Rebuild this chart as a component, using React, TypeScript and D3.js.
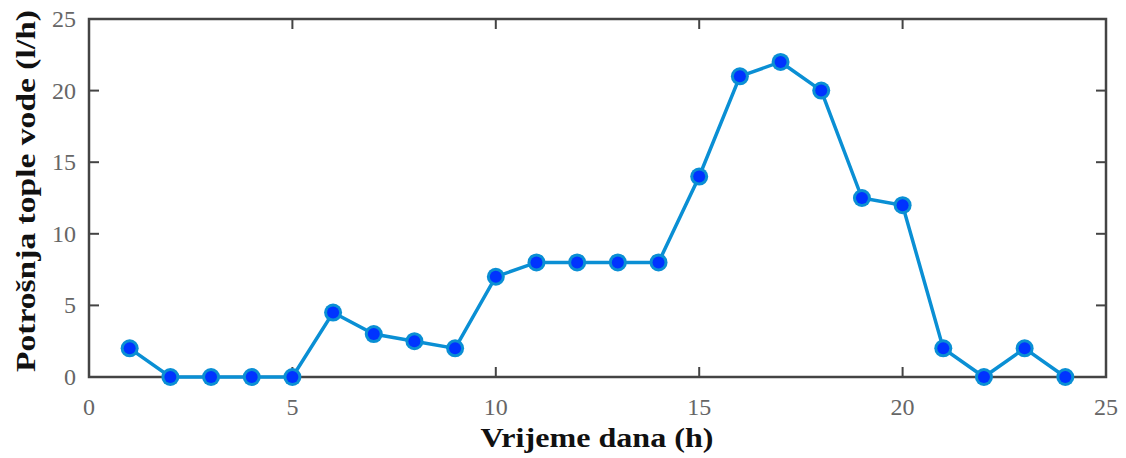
import React from "react";
import * as d3 from "d3";

const hours = [1,2,3,4,5,6,7,8,9,10,11,12,13,14,15,16,17,18,19,20,21,22,23,24];
const consumption = [2,0,0,0,0,4.5,3,2.5,2,7,8,8,8,8,14,21,22,20,12.5,12,2,0,2,0];
const xTicks = [0,5,10,15,20,25];
const yTicks = [0,5,10,15,20,25];
const xLabel = "Vrijeme dana (h)";
const yLabel = "Potrošnja tople vode (l/h)";

export default function App() {
  const W = 1126, H = 458;
  const L = 89, R = 1106, T = 19, B = 377;
  const x = d3.scaleLinear().domain([0, 25]).range([L, R]);
  const y = d3.scaleLinear().domain([0, 25]).range([B, T]);
  const line = d3.line<number>().x((_, i) => x(hours[i])).y((d) => y(d));
  const tl = 10;
  const axisColor = "#444";
  return (
    <svg width={W} height={H} style={{ position: "absolute", left: 0, top: 0, background: "#fff" }}>
      <rect x={L} y={T} width={R - L} height={B - T} fill="none" stroke={axisColor} strokeWidth={2.5} />
      {xTicks.map((t) => (
        <g key={"x" + t}>
          <line x1={x(t)} x2={x(t)} y1={B} y2={B - tl} stroke={axisColor} strokeWidth={2} />
          <line x1={x(t)} x2={x(t)} y1={T} y2={T + tl} stroke={axisColor} strokeWidth={2} />
          <text x={x(t)} y={415} textAnchor="middle" fontFamily="Liberation Serif" fontSize={24} fill="#666">{t}</text>
        </g>
      ))}
      {yTicks.map((t) => (
        <g key={"y" + t}>
          <line x1={L} x2={L + tl} y1={y(t)} y2={y(t)} stroke={axisColor} strokeWidth={2} />
          <line x1={R} x2={R - tl} y1={y(t)} y2={y(t)} stroke={axisColor} strokeWidth={2} />
          <text x={76} y={y(t) + 8} textAnchor="end" fontFamily="Liberation Serif" fontSize={24} fill="#666">{t}</text>
        </g>
      ))}
      <path d={line(consumption) || ""} fill="none" stroke="#0a8fd4" strokeWidth={3.5} />
      {consumption.map((v, i) => (
        <g key={"m" + i}>
          <circle cx={x(hours[i])} cy={y(v)} r={9} fill="#0a8fd4" />
          <circle cx={x(hours[i])} cy={y(v)} r={6} fill="#0033ff" />
        </g>
      ))}
      <text x={597} y={447} textAnchor="middle" fontFamily="Liberation Serif" fontWeight="bold" fontSize={28} fill="#111" textLength={233} lengthAdjust="spacingAndGlyphs">{xLabel}</text>
      <text transform={`translate(35,${191}) rotate(-90)`} textAnchor="middle" fontFamily="Liberation Serif" fontWeight="bold" fontSize={28} fill="#111" textLength={362} lengthAdjust="spacingAndGlyphs">{yLabel}</text>
    </svg>
  );
}
